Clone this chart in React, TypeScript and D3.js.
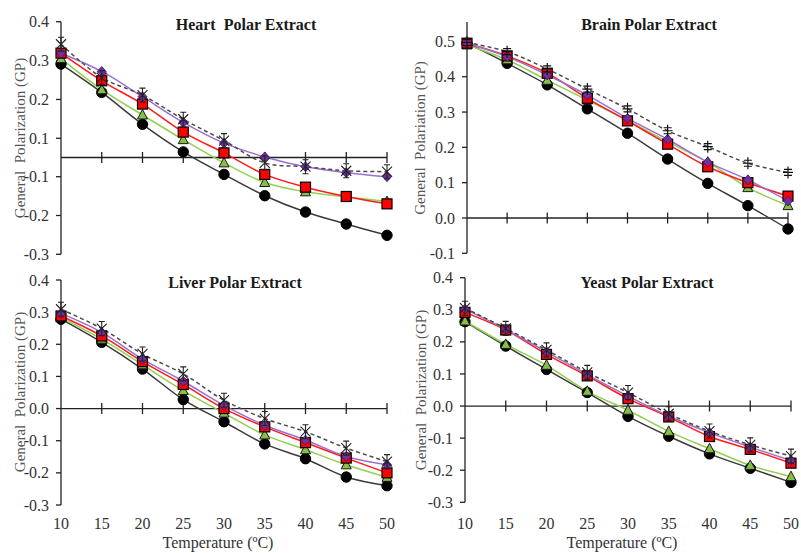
import React, { useEffect, useRef } from 'react';
import * as d3 from 'd3';

const temps = [10, 15, 20, 25, 30, 35, 40, 45, 50];

const heartCircle = [0.291, 0.218, 0.136, 0.029, -0.088, -0.149, -0.191, -0.222, -0.251];
const heartTriangle = [0.305, 0.225, 0.16, 0.093, -0.028, -0.115, -0.139, -0.152, -0.164];
const heartSquare = [0.319, 0.248, 0.188, 0.116, 0.024, -0.088, -0.127, -0.151, -0.17];
const heartDiamond = [0.319, 0.272, 0.207, 0.141, 0.075, 0.003, -0.048, -0.079, -0.1];
const heartStar = [0.342, 0.256, 0.211, 0.149, 0.088, -0.028, -0.048, -0.069, -0.074];

const brainCircle = [0.495, 0.438, 0.377, 0.309, 0.24, 0.167, 0.098, 0.035, -0.031];
const brainTriangle = [0.49, 0.448, 0.39, 0.334, 0.276, 0.216, 0.158, 0.086, 0.035];
const brainSquare = [0.495, 0.459, 0.41, 0.339, 0.275, 0.209, 0.145, 0.1, 0.062];
const brainDiamond = [0.495, 0.457, 0.405, 0.348, 0.282, 0.223, 0.158, 0.108, 0.048];
const brainDash = [0.497, 0.471, 0.422, 0.365, 0.309, 0.247, 0.202, 0.155, 0.129];

const liverCircle = [0.278, 0.206, 0.123, 0.028, -0.041, -0.11, -0.156, -0.213, -0.24];
const liverTriangle = [0.283, 0.216, 0.136, 0.056, -0.014, -0.082, -0.128, -0.175, -0.214];
const liverSquare = [0.288, 0.226, 0.146, 0.075, 0.0, -0.057, -0.106, -0.154, -0.2];
const liverDiamond = [0.296, 0.237, 0.154, 0.085, 0.01, -0.052, -0.098, -0.149, -0.175];
const liverStar = [0.309, 0.249, 0.17, 0.108, 0.026, -0.031, -0.072, -0.123, -0.165];

const yeastCircle = [0.263, 0.187, 0.114, 0.042, -0.032, -0.094, -0.149, -0.194, -0.238];
const yeastTriangle = [0.265, 0.192, 0.127, 0.046, -0.013, -0.079, -0.133, -0.185, -0.22];
const yeastSquare = [0.292, 0.237, 0.161, 0.094, 0.023, -0.034, -0.095, -0.135, -0.178];
const yeastDiamond = [0.302, 0.239, 0.169, 0.098, 0.031, -0.031, -0.083, -0.128, -0.17];
const yeastStar = [0.305, 0.242, 0.175, 0.105, 0.042, -0.024, -0.078, -0.121, -0.156];

const heartTicks = [0.4, 0.3, 0.2, 0.1, -0.1, -0.2, -0.3];
const brainTicks = [0.5, 0.4, 0.3, 0.2, 0.1, 0.0, -0.1];
const gpTicks = [0.4, 0.3, 0.2, 0.1, 0.0, -0.1, -0.2, -0.3];

const seriesStyle = [
  { line: '#3a3a3a', marker: 'circle', fill: '#000' },
  { line: '#92d050', marker: 'triangle', fill: '#86bf45' },
  { line: '#ff1a1a', marker: 'square', fill: '#ff0000' },
  { line: '#9b6fd0', marker: 'diamond', fill: '#7030a0' },
  { line: '#4a4a4a', marker: 'star', fill: 'none', dash: '4,3' },
];

const panels = [
  {
    title: 'Heart  Polar Extract', yTitle: 'General  Polarization (GP)',
    series: [heartCircle, heartTriangle, heartSquare, heartDiamond, heartStar],
    left: 61, right: 387, yDomain: [-0.3, -0.1, 0.1, 0.4], yRange: [254.3, 176.7, 138.3, 21.7],
    yTicks: heartTicks, titleX: 246, titleY: 30, yTitleX: 20, yTitleY: 138, xLabels: false, lastMarker: 'star',
  },
  {
    title: 'Brain Polar Extract', yTitle: 'General  Polariation (GP)',
    series: [brainCircle, brainTriangle, brainSquare, brainDiamond, brainDash],
    left: 467, right: 788, yDomain: [-0.1, 0.555], yRange: [253.3, 22],
    yTicks: brainTicks, titleX: 649, titleY: 30, yTitleX: 420, yTitleY: 138, xLabels: false, lastMarker: 'dash',
  },
  {
    title: 'Liver Polar Extract', yTitle: 'General  Polarization (GP)',
    series: [liverCircle, liverTriangle, liverSquare, liverDiamond, liverStar],
    left: 61, right: 387, yDomain: [-0.3, 0.4], yRange: [505, 280],
    yTicks: gpTicks, titleX: 235, titleY: 288, yTitleX: 20, yTitleY: 392, xLabels: true, lastMarker: 'star',
  },
  {
    title: 'Yeast Polar Extract', yTitle: 'General  Polarization (GP)',
    series: [yeastCircle, yeastTriangle, yeastSquare, yeastDiamond, yeastStar],
    left: 465, right: 791, yDomain: [-0.3, 0.4], yRange: [502.3, 277.7],
    yTicks: gpTicks, titleX: 647, titleY: 288, yTitleX: 421, yTitleY: 390, xLabels: true, lastMarker: 'star',
  },
];

const FONT = '"Liberation Serif", "Times New Roman", serif';

const drawMarker = (g, kind, x, y, fill) => {
  if (kind === 'circle') {
    g.append('circle').attr('cx', x).attr('cy', y).attr('r', 5.2).attr('fill', fill).attr('stroke', '#000');
  } else if (kind === 'square') {
    g.append('rect').attr('x', x - 5).attr('y', y - 5).attr('width', 10).attr('height', 10)
      .attr('fill', fill).attr('stroke', '#000').attr('stroke-width', 1.2);
  } else if (kind === 'triangle') {
    g.append('path').attr('d', `M${x},${y - 5.5}L${x + 5},${y + 4}L${x - 5},${y + 4}Z`)
      .attr('fill', fill).attr('stroke', '#1a1a1a').attr('stroke-width', 1);
  } else if (kind === 'diamond') {
    g.append('path').attr('d', `M${x},${y - 5}L${x + 4.5},${y}L${x},${y + 5}L${x - 4.5},${y}Z`)
      .attr('fill', fill).attr('stroke', '#3d1466').attr('stroke-width', 0.8);
  } else if (kind === 'star') {
    const s = 5;
    g.append('path')
      .attr('d', `M${x - s},${y - s}L${x + s},${y + s}M${x - s},${y + s}L${x + s},${y - s}M${x},${y - s - 2}L${x},${y + s + 2}M${x - 3},${y - s - 2}L${x + 3},${y - s - 2}M${x - 3},${y + s + 2}L${x + 3},${y + s + 2}`)
      .attr('fill', 'none').attr('stroke', '#222').attr('stroke-width', 1.1);
  } else if (kind === 'dash') {
    g.append('path')
      .attr('d', `M${x},${y - 6}L${x},${y + 6}M${x - 5},${y}L${x + 5},${y}M${x - 4},${y - 3}L${x + 4},${y - 3}M${x - 4},${y + 3}L${x + 4},${y + 3}`)
      .attr('fill', 'none').attr('stroke', '#111').attr('stroke-width', 1.2);
  }
};

const App = () => {
  const ref = useRef(null);

  useEffect(() => {
    const svg = d3.select(ref.current);
    svg.selectAll('*').remove();

    panels.forEach((p) => {
      const g = svg.append('g');
      const x = d3.scaleLinear().domain([10, 50]).range([p.left, p.right]);
      const y = d3.scaleLinear().domain(p.yDomain).range(p.yRange);
      const yTop = p.yRange[p.yRange.length - 1];
      const yBot = p.yRange[0];
      const y0 = y(0);

      // y axis
      g.append('line').attr('x1', p.left).attr('x2', p.left).attr('y1', yTop).attr('y2', yBot)
        .attr('stroke', '#222').attr('stroke-width', 1.3);
      p.yTicks.forEach((t) => {
        g.append('line').attr('x1', p.left - 5).attr('x2', p.left).attr('y1', y(t)).attr('y2', y(t))
          .attr('stroke', '#222').attr('stroke-width', 1.3);
        g.append('text').attr('x', p.left - 12).attr('y', y(t)).attr('dy', '0.35em')
          .attr('text-anchor', 'end').attr('font-family', FONT).attr('font-size', 16).attr('fill', '#333')
          .text(t.toFixed(1));
      });

      // x axis at zero with cross ticks
      g.append('line').attr('x1', p.left).attr('x2', p.right).attr('y1', y0).attr('y2', y0)
        .attr('stroke', '#222').attr('stroke-width', 1.3);
      temps.slice(1).forEach((t) => {
        g.append('line').attr('x1', x(t)).attr('x2', x(t)).attr('y1', y0 - 5.5).attr('y2', y0 + 5.5)
          .attr('stroke', '#222').attr('stroke-width', 1.3);
      });
      if (p.xLabels) {
        temps.forEach((t) => {
          g.append('text').attr('x', x(t)).attr('y', 529).attr('text-anchor', 'middle')
            .attr('font-family', FONT).attr('font-size', 16).attr('fill', '#333').text(t);
        });
        g.append('text').attr('x', (p.left + p.right) / 2 - 6).attr('y', 548).attr('text-anchor', 'middle')
          .attr('font-family', FONT).attr('font-size', 16).attr('fill', '#333').text('Temperature (ºC)');
      }

      // titles
      g.append('text').attr('x', p.titleX).attr('y', p.titleY).attr('text-anchor', 'middle')
        .attr('font-family', FONT).attr('font-size', 16).attr('font-weight', 'bold').attr('fill', '#1a1a1a')
        .style('white-space', 'pre').text(p.title);
      g.append('text').attr('transform', `translate(${p.yTitleX},${p.yTitleY}) rotate(-90)`)
        .attr('text-anchor', 'middle').attr('dy', '0.35em').attr('font-family', FONT).attr('font-size', 15)
        .attr('fill', '#555').style('white-space', 'pre').text(p.yTitle);

      // series
      const line = d3.line().x((d) => x(d[0])).y((d) => y(d[1])).curve(d3.curveCatmullRom.alpha(0.5));
      p.series.forEach((vals, i) => {
        const st = seriesStyle[i];
        const pts = temps.map((t, j) => [t, vals[j]]);
        g.append('path').attr('d', line(pts)).attr('fill', 'none').attr('stroke', st.line)
          .attr('stroke-width', 1.5).attr('stroke-dasharray', st.dash || null);
      });
      p.series.forEach((vals, i) => {
        const st = seriesStyle[i];
        const kind = i === 4 ? p.lastMarker : st.marker;
        temps.forEach((t, j) => drawMarker(g, kind, x(t), y(vals[j]), st.fill));
      });
    });
  }, []);

  return (
    <svg ref={ref} width={801} height={553}
      style={{ position: 'absolute', left: 0, top: 0, background: '#fff' }} />
  );
};

export default App;
